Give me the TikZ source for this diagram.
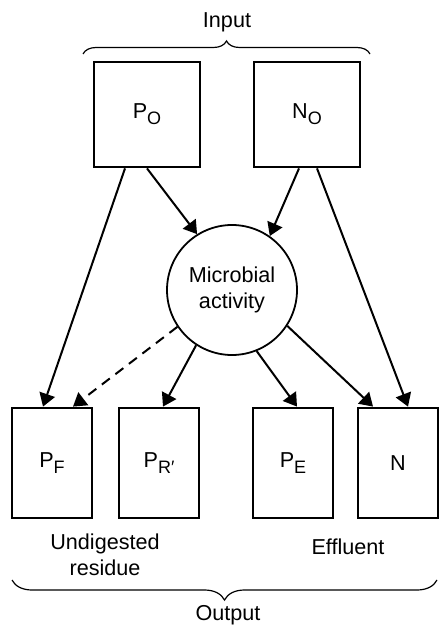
\documentclass[tikz,border=0pt]{standalone}
\usepackage{fontspec}
\setmainfont{Liberation Sans}
\usepackage{tikz}
\usetikzlibrary{arrows.meta,decorations.pathreplacing}
\newcommand\lowsub[1]{\raisebox{-0.55ex}{\small #1}}

\begin{document}
\begin{tikzpicture}[x=0.5pt,y=-0.5pt,font=\fontsize{10.8}{12.8}\selectfont,
    inbox/.style={draw,line width=1.4pt,minimum width=53pt,minimum height=52.5pt,inner sep=0pt},
    outbox/.style={draw,line width=1.4pt,minimum width=40pt,minimum height=55pt,inner sep=0pt},
    flow/.style={line width=1pt,-{Triangle[width=8pt,length=6.5pt]}},
    brc/.style={line width=0.6pt,decorate,decoration={brace,amplitude=#1}}]
      \useasboundingbox (0,0) rectangle (439,625);
      \node (input) at (227,22) {Input};
      \node[inbox] (po) at (147,114.5) {P\lowsub{O}};
      \node[inbox] (no) at (307,114.5) {N\lowsub{O}};
      \node[draw,circle,line width=0.9pt,minimum size=65pt,inner sep=0pt,align=center] (mic) at (232,290) {Microbial\\activity};
      \node[outbox] (pf) at (52,463) {P\lowsub{F}};
      \node[outbox] (pr) at (159,463) {P\lowsub{R′}};
      \node[outbox] (pe) at (293,463) {P\lowsub{E}};
      \node[outbox] (n) at (398,463) {N};
      \node[align=center] (undig) at (105,555) {Undigested\\residue};
      \node (effl) at (348,547) {Effluent};
      \node (output) at (228,615) {Output};
      \draw[brc=6.5pt] (83,54) -- (370,54);
      \draw[brc=10pt] (437,580) -- (12,580);
      \draw[flow] ([xshift=-11pt]po.south) -- ([xshift=-4.5pt]pf.north);
      \draw[flow] (po.south) -- (mic.122);
      \draw[flow] ([xshift=-4pt]no.south) -- (mic.55);
      \draw[flow] ([xshift=5pt]no.south) -- ([xshift=5pt]n.north);
      \draw[flow,dash pattern=on 5pt off 3.5pt] (mic.214) -- ([xshift=10.5pt]pf.north);
      \draw[flow] (mic.237) -- ([xshift=2pt]pr.north);
      \draw[flow] (mic.292) -- ([xshift=2pt]pe.north);
      \draw[flow] (mic.327) -- ([xshift=-12.5pt]n.north);
    \end{tikzpicture}
\end{document}
